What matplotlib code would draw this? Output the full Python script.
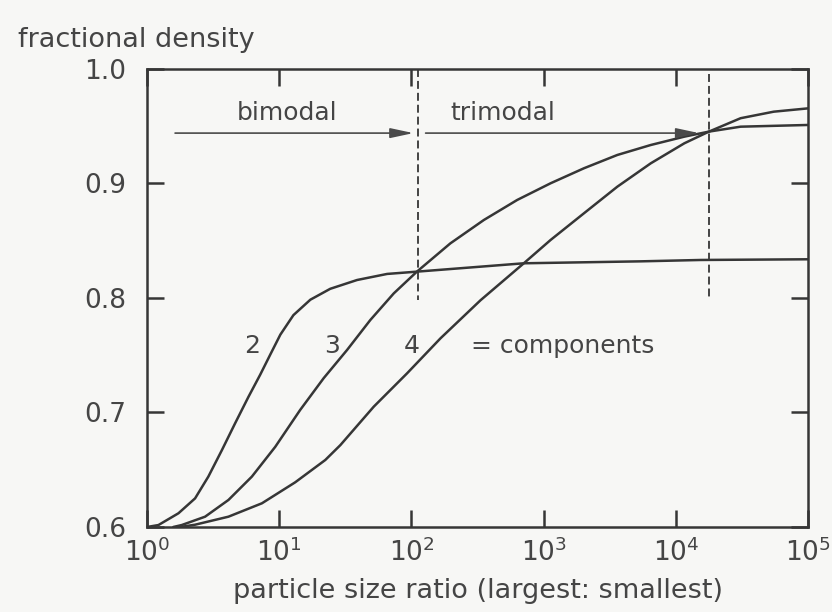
import matplotlib
matplotlib.use("Agg")
import matplotlib.pyplot as plt

INK = "#363636"
TXT = "#454545"

# curve values (ratio largest:smallest, fractional density)
ratio_2 = [1.0, 1.22, 1.73, 2.31, 2.91, 3.68, 4.64, 5.86, 7.18, 8.55, 10.2, 12.8, 17.2,
           24.3, 38.8, 65.5, 110, 708, 5430, 15500, 1e5]
dens_2 = [0.600, 0.6017, 0.612, 0.625, 0.644, 0.667, 0.6906, 0.7138, 0.733, 0.7505,
          0.7680, 0.7850, 0.7985, 0.8080, 0.8157, 0.821, 0.823, 0.8303, 0.832, 0.8332,
          0.8338]

ratio_3 = [1.58, 1.83, 2.75, 4.13, 6.21, 9.33, 14.4, 21.7, 32.6, 48.9, 73.5, 110, 197,
           353, 631, 1130, 2020, 3610, 6460, 11600, 17800, 30900, 1e5]
dens_3 = [0.600, 0.6017, 0.609, 0.6236, 0.644, 0.670, 0.7022, 0.730, 0.7546, 0.7808,
          0.804, 0.823, 0.8477, 0.8681, 0.8856, 0.9002, 0.9133, 0.9249, 0.9336, 0.9409,
          0.9453, 0.9496, 0.9511]

ratio_4 = [1.78, 2.31, 4.13, 7.4, 13.2, 22.3, 29.0, 51.9, 92.7, 166, 333, 708, 1130,
           2020, 3610, 6460, 11600, 17800, 30900, 55000, 1e5]
dens_4 = [0.600, 0.602, 0.609, 0.6207, 0.6390, 0.6585, 0.6715, 0.7051, 0.7342, 0.7648,
          0.798, 0.8303, 0.8507, 0.874, 0.8972, 0.9176, 0.9351, 0.9453, 0.957, 0.9627,
          0.9656]

curve_labels = ["2", "3", "4"]
label_x = [6.2, 25.1, 101]
label_y = [0.758, 0.758, 0.758]

limit_bimodal = 112
limit_trimodal = 17800
arrow_y = 0.944

plt.rcParams["font.family"] = "DejaVu Sans"

fig = plt.figure(figsize=(8.32, 6.12), dpi=100, facecolor="#f7f7f5")
ax = fig.add_axes([0.1767, 0.1389, 0.7945, 0.7484])
ax.set_facecolor("#f7f7f5")

for r, d in [(ratio_2, dens_2), (ratio_3, dens_3), (ratio_4, dens_4)]:
    ax.plot(r, d, color=INK, lw=1.8, solid_capstyle="round", solid_joinstyle="round")

dash = (0, (4.4, 2.2))
ax.plot([limit_bimodal, limit_bimodal], [1.0, 0.798], color=INK, lw=1.3, ls=dash)
ax.plot([limit_trimodal, limit_trimodal], [0.996, 0.80], color=INK, lw=1.3, ls=dash)

arrow = dict(arrowstyle="-|>,head_length=1.4,head_width=0.3", color="#4a4a4a", lw=1.2,
             shrinkA=0, shrinkB=0)
ax.annotate("", xy=(103.5, arrow_y), xytext=(1.63, arrow_y), arrowprops=arrow)
ax.annotate("", xy=(15000, arrow_y), xytext=(128, arrow_y), arrowprops=arrow)
ax.text(11.5, 0.951, "bimodal", fontsize=18, color=TXT, ha="center", va="bottom")
ax.text(490, 0.951, "trimodal", fontsize=18, color=TXT, ha="center", va="bottom")

for lab, x, y in zip(curve_labels, label_x, label_y):
    ax.text(x, y, lab, fontsize=18, color=TXT, ha="center", va="center")
ax.text(1390, 0.758, "= components", fontsize=18, color=TXT, ha="center", va="center")

ax.set_xscale("log")
ax.set_xlim(1, 1e5)
ax.set_ylim(0.6, 1.0)
ax.set_xticks([1, 10, 100, 1000, 1e4, 1e5])
ax.set_xticklabels([r"$10^{%d}$" % i for i in range(6)])
ax.minorticks_off()
ax.set_yticks([0.6, 0.7, 0.8, 0.9, 1.0])
ax.set_yticklabels(["0.6", "0.7", "0.8", "0.9", "1.0"])
ax.tick_params(direction="in", length=12, width=1.8, color=INK, labelcolor=TXT,
               labelsize=19, top=True, right=True)
ax.tick_params(axis="x", pad=8)
ax.tick_params(axis="y", pad=15)
for s in ax.spines.values():
    s.set_color(INK)
    s.set_linewidth(1.8)

ax.set_xlabel("particle size ratio (largest: smallest)", fontsize=19.5, color=TXT, labelpad=8)
fig.text(0.022, 0.935, "fractional density", fontsize=19.5, color=TXT, ha="left", va="center")

fig.savefig("out.png", dpi=100, facecolor=fig.get_facecolor())
